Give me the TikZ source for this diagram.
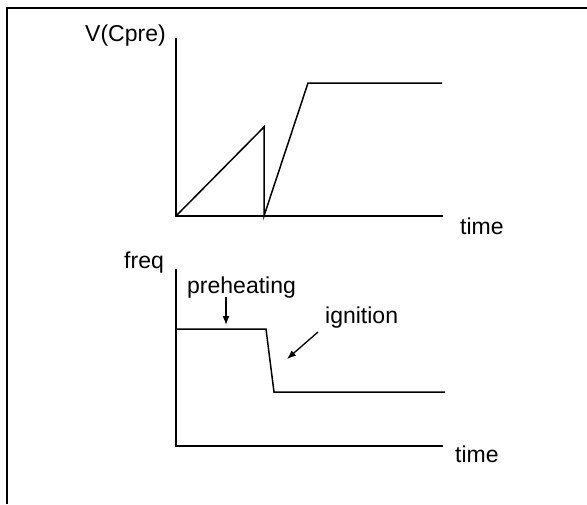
\documentclass[tikz,border=0pt]{standalone}
\usepackage{fontspec}
\setmainfont{Liberation Sans}
\usetikzlibrary{positioning,calc,arrows.meta}
\tikzset{axisline/.style={draw, line width=1.5pt, line join=miter}}
\tikzset{curveline/.style={draw, line width=1.5pt, line join=miter}}
\tikzset{lbl/.style={inner sep=0pt, anchor=base west, font=\fontsize{23}{27}\selectfont}}
\tikzset{arr/.style={draw, line width=1.3pt, -{Latex[length=9pt,width=7pt]}}}

\begin{document}
\begin{tikzpicture}[x=1pt, y=-1pt]
		\useasboundingbox (0,0) rectangle (587,504);
		% frame
		\draw[line width=2.2pt] (7,504) -- (7,8) -- (587,8);
		% upper plot
		\coordinate (vtop) at (176,38);
		\coordinate (vorig) at (176,216);
		\coordinate (vend) at (443,216);
		\coordinate (peak) at (264,127);
		\coordinate (reset) at (264,216);
		\coordinate (knee) at (308,83);
		\coordinate (flat) at (442,83);
		\draw[axisline] (vtop) -- (vorig) -- (vend);
		\draw[curveline] (vorig) -- (peak) -- (reset) -- (knee) -- (flat);
		\node[lbl] (vlabel) at (85,41) {V(Cpre)};
		\node[lbl] (vtime) at (460,234) {time};
		% lower plot
		\coordinate (ftop) at (176,269);
		\coordinate (forig) at (176,446);
		\coordinate (fend) at (443,446);
		\coordinate (high) at (176,329);
		\coordinate (drop) at (266,329);
		\coordinate (low) at (274,392);
		\coordinate (lowend) at (445,392);
		\draw[axisline] (ftop) -- (forig) -- (fend);
		\draw[curveline] (high) -- (drop) -- (low) -- (lowend);
		\node[lbl] (flabel) at (124,268) {freq};
		\node[lbl] (ftime) at (455,462) {time};
		\node[lbl] (preheat) at (187,293) {preheating};
		\node[lbl] (ignite) at (325,323) {ignition};
		\coordinate (preA) at (226,297);
		\coordinate (preB) at (226,325);
		\coordinate (ignA) at (318,332);
		\coordinate (ignB) at (287,359);
		\draw[arr] (preA) -- (preB);
		\draw[arr] (ignA) -- (ignB);
	\end{tikzpicture}
\end{document}
